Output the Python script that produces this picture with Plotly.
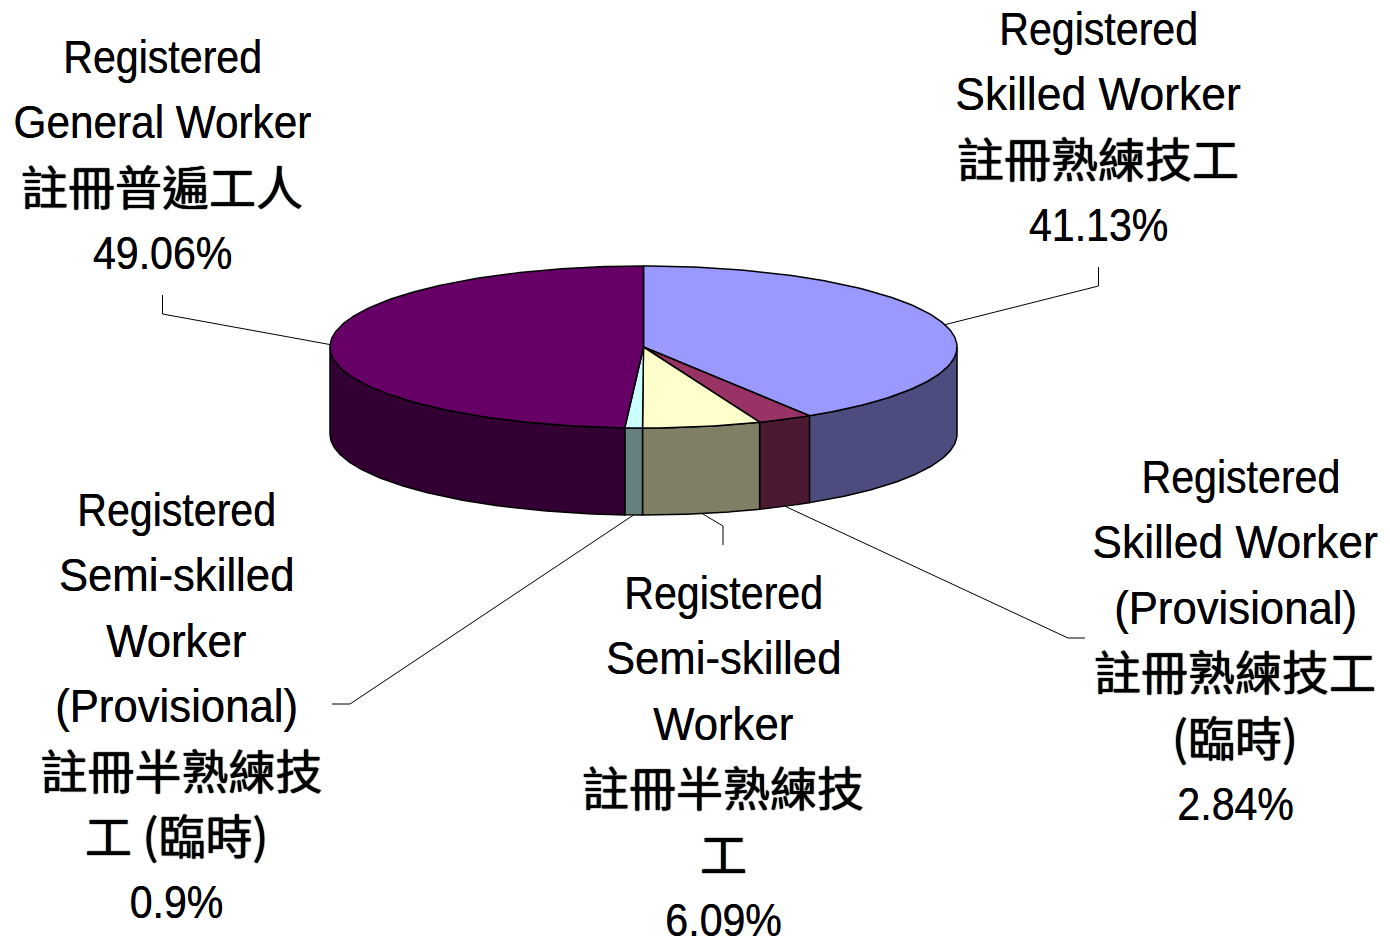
import numpy as np
import plotly.graph_objects as go

# ---- data ----
categories = ["Registered Skilled Worker", "Registered Skilled Worker (Provisional)",
              "Registered Semi-skilled Worker", "Registered Semi-skilled Worker (Provisional)",
              "Registered General Worker"]
values = [41.13, 2.84, 6.09, 0.9, 49.06]
top_colors = ["#9999FF", "#993366", "#FFFFCC", "#CCFFFF", "#660066"]
side_colors = ["#4C4C7F", "#4C1933", "#7F7F66", "#667F7F", "#330033"]

label_lines = [
    ["Registered", "Skilled Worker", "註冊熟練技工", "41.13%"],
    ["\u00a0Registered", "Skilled Worker", "(Provisional)", "註冊熟練技工", "(臨時)", "2.84%"],
    ["Registered", "Semi-skilled", "Worker", "註冊半熟練技", "工", "6.09%"],
    ["Registered", "Semi-skilled", "Worker", "(Provisional)", "\u00a0註冊半熟練技", "工 (臨時)", "0.9%"],
    ["Registered", "General Worker", "註冊普遍工人", "49.06%"],
]
label_x = [1098, 1235, 723, 176, 162]
label_y0 = [28.5, 476.5, 592.5, 509.5, 56.5]
line_step = 65.3
cjk_dy = -2.5
# leader elbows after the slice edge
leader_elbows_x = [[1098.5, 1098.5], [1068, 1085], [723, 723], [350, 332], [162.5, 162.5]]
leader_elbows_y = [[286, 267], [638, 638], [526, 545], [704, 704], [314, 295]]

# ---- pie geometry ----
CX, CY, RX, RY, DEPTH = 643.5, 347.0, 313.5, 81.0, 87.0
LATIN = "'Liberation Sans', 'Noto Sans CJK TC', sans-serif"
CJK = "'Noto Sans CJK TC', sans-serif"

fracs = np.array(values) / np.sum(values)
edges = np.concatenate([[0], np.cumsum(fracs)]) * 2 * np.pi


def ell(t, dy=0.0):
    return CX + RX * np.sin(t), CY - RY * np.cos(t) + dy


fig = go.Figure()

# side walls (only the front half, theta in 90..270 deg)
for i in range(len(values)):
    a = max(edges[i], np.pi / 2)
    b = min(edges[i + 1], 3 * np.pi / 2)
    if b <= a:
        continue
    t = np.linspace(a, b, 90)
    x0, y0 = ell(t)
    x1, y1 = ell(t[::-1], DEPTH)
    fig.add_trace(go.Scatter(
        x=np.r_[x0, x1, x0[0]], y=np.r_[y0, y1, y0[0]], mode="lines",
        fill="toself", fillcolor=side_colors[i],
        line=dict(color="black", width=1.5), hoverinfo="skip", showlegend=False))

# top faces
for i in range(len(values)):
    t = np.linspace(edges[i], edges[i + 1], max(int(fracs[i] * 360), 12))
    x0, y0 = ell(t)
    fig.add_trace(go.Scatter(
        x=np.r_[CX, x0, CX], y=np.r_[CY, y0, CY], mode="lines",
        fill="toself", fillcolor=top_colors[i], name=categories[i],
        line=dict(color="black", width=1.5), text=f"{values[i]}%", hoverinfo="name+text",
        showlegend=False))

# leader lines start from the slice's mid-angle
for i in range(len(values)):
    mid = (edges[i] + edges[i + 1]) / 2
    front = np.pi / 2 < mid < 3 * np.pi / 2
    sx, sy = ell(mid, DEPTH if front else 0.0)
    fig.add_trace(go.Scatter(
        x=[sx] + leader_elbows_x[i], y=[sy] + leader_elbows_y[i], mode="lines",
        line=dict(color="black", width=1), hoverinfo="skip", showlegend=False))

# labels, one annotation per line to keep the wide line pitch
for i, lines in enumerate(label_lines):
    for j, s in enumerate(lines):
        has_cjk = any(ord(c) > 0x2E80 for c in s)
        fig.add_annotation(
            x=label_x[i], y=label_y0[i] + j * line_step + (cjk_dy if has_cjk else 0),
            text=s, showarrow=False, xanchor="center", yanchor="middle",
            font=dict(family=CJK if has_cjk else LATIN, size=47, color="black",
                      shadow="0 0 1px #000, 0 0 1px #000" if has_cjk else "0 0 0.6px #000"))

fig.update_layout(
    width=1390, height=938, margin=dict(l=0, r=0, t=0, b=0),
    paper_bgcolor="white", plot_bgcolor="white", showlegend=False,
    xaxis=dict(range=[0, 1390], visible=False, fixedrange=True),
    yaxis=dict(range=[938, 0], visible=False, fixedrange=True),
)

# page fit: no body margin; Latin label lines are condensed like the reference
POST = r"""
document.documentElement.style.overflow='hidden';
document.body.style.margin='0';
document.body.style.overflow='hidden';
document.querySelectorAll('.annotation-text').forEach(function(el){
  var s=el.textContent.replace(/\u00a0/g,' ').trim();
  if(!/[\u2E80-\uFFFF]/.test(s)){
    var k=/^(Registered|[0-9])/.test(s)?0.875:(/^General/.test(s)?0.90:(/^Skilled/.test(s)?0.945:0.93));
    el.style.transformBox='fill-box';
    el.style.transformOrigin='center';
    el.style.transform='scaleX('+k+')';
  }
});
"""
fig.write_html("out.html", config={"displayModeBar": False}, post_script=POST)
